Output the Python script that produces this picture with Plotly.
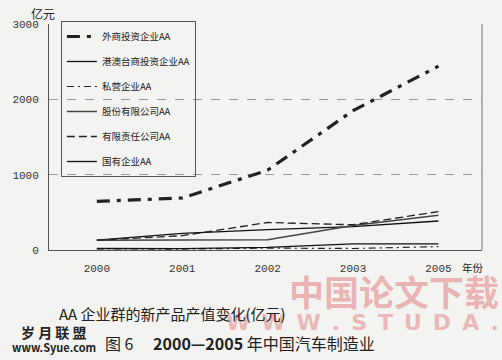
import plotly.graph_objects as go

years = ["2000", "2001", "2002", "2003", "2005"]
y_ticks = [0, 1000, 2000, 3000]

names = ["外商投资企业AA", "港澳台商投资企业AA", "私营企业AA", "股份有限公司AA", "有限责任公司AA", "国有企业AA"]
foreign = [645, 690, 1060, 1850, 2440]
hk_macao_tw = [130, 220, 270, 310, 385]
private = [15, 12, 25, 20, 45]
joint_stock = [130, 130, 135, 325, 460]
limited = [130, 190, 365, 335, 510]
state_owned = [20, 18, 35, 82, 82]

series = [foreign, hk_macao_tw, private, joint_stock, limited, state_owned]
styles = [
    dict(color="#222", width=3.2, dash="13px,7px,4px,7px"),
    dict(color="#111", width=1.3, dash="solid"),
    dict(color="#222", width=1.2, dash="7px,4px,2px,4px"),
    dict(color="#444", width=1.5, dash="solid"),
    dict(color="#222", width=1.3, dash="8px,4px"),
    dict(color="#111", width=1.3, dash="solid"),
]

W, H = 502, 360
ML, MR, MT, MB = 45, 20, 24, 110
PW, PH = W - ML - MR, H - MT - MB


def px(x):
    return (x - ML) / PW


def py(y):
    return (H - MB - y) / PH


cjk = "Noto Sans CJK SC"
fig = go.Figure()
for i, (n, v, s) in enumerate(zip(names, series, styles)):
    fig.add_trace(go.Scatter(x=years, y=v, name=n, mode="lines", line=s,
                             legendgroup=f"g{i}"))

fig.update_layout(
    width=W, height=H,
    margin=dict(l=ML, r=MR, t=MT, b=MB),
    paper_bgcolor="#f3f3f1", plot_bgcolor="#f3f3f1",
    font=dict(family=cjk, size=10, color="#222"),
    showlegend=True,
    legend=dict(x=px(57), y=py(21), xanchor="left", yanchor="top",
                bgcolor="rgba(0,0,0,0)", bordercolor="#555", borderwidth=1,
                tracegroupgap=6, itemwidth=30,
                font=dict(family=cjk, size=9.5, color="#222")),
    xaxis=dict(type="category", range=[-0.56, 4.51], showgrid=False,
               showline=True, linecolor="#555", linewidth=1, ticks="",
               ticklabelstandoff=8,
               tickfont=dict(family="Liberation Mono", size=11, color="#333")),
    yaxis=dict(range=[0, 3000], tickvals=y_ticks, showgrid=True,
               gridcolor="#999", griddash="dash", gridwidth=0.8,
               showline=True, linecolor="#555", linewidth=1, ticks="",
               zeroline=False, ticklabelstandoff=7,
               tickfont=dict(family="Liberation Mono", size=11, color="#333")),
)
# right border of plot area
fig.add_shape(type="line", xref="paper", yref="paper", x0=1, x1=1, y0=0, y1=1,
              line=dict(color="#777", width=1))


def note(text, x, y, xanchor, size, family=cjk, color="#222", yanchor="middle"):
    fig.add_annotation(text=text, xref="paper", yref="paper", x=px(x), y=py(y),
                       xanchor=xanchor, yanchor=yanchor, showarrow=False,
                       font=dict(family=family, size=size, color=color))


note("亿元", 39, 14, "center", 12)
note("年份", 473, 267, "center", 10.5)
note("<b>中国论文下载</b>", 501, 290, "right", 35, color="rgba(222,100,100,0.45)")
note("<b>W\u2002W\u2002W\u2002.\u2002S\u2002T\u2002U\u2002D\u2002A\u2002.</b>", 501, 322,
     "right", 22, family="DejaVu Sans", color="rgba(222,100,100,0.42)")
note("AA 企业群的新产品产值变化(亿元)", 53, 313, "left", 15)
note("图 6　 <b>2000—2005</b> 年中国汽车制造业", 100, 343, "left", 16)
note("<b>岁 月 联 盟</b>", 50, 332, "center", 14)
note("<b>www.Syue.com</b>", 50, 347, "center", 11)

fig.write_html("out.html", config={"displayModeBar": False},
               post_script="document.body.style.margin='0';")
